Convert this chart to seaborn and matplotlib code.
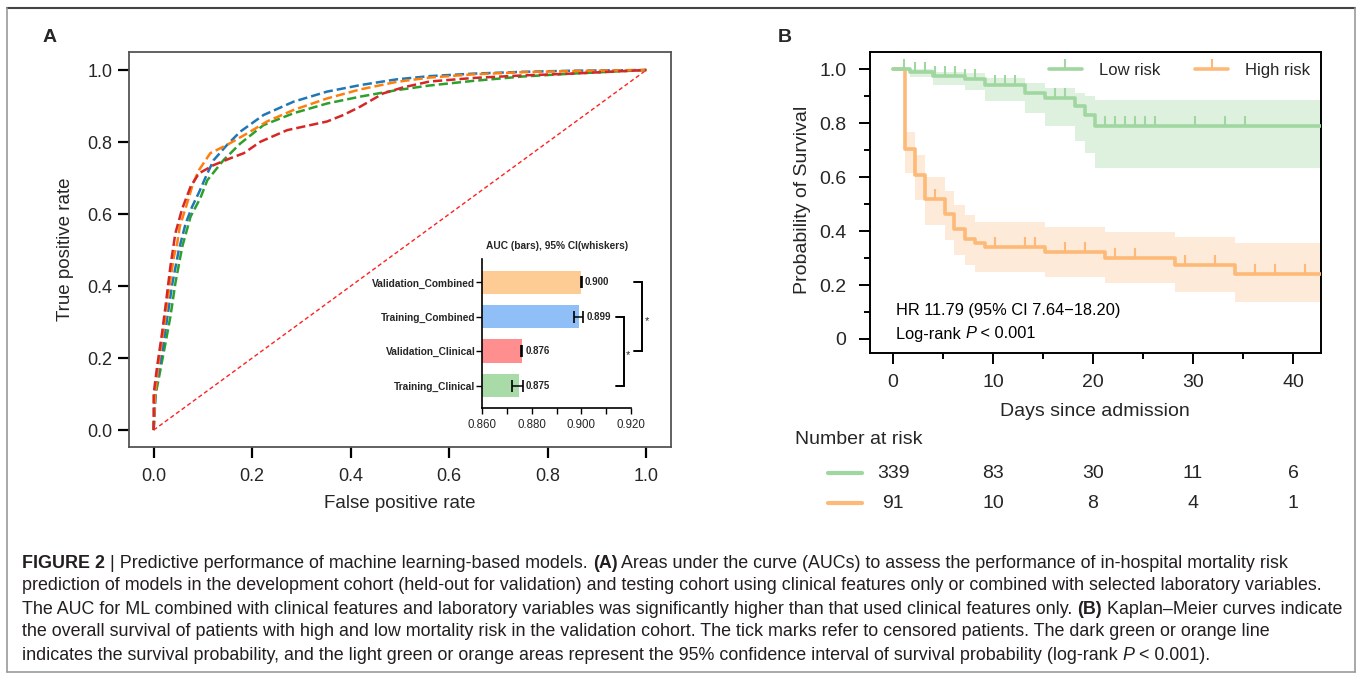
import numpy as np
import matplotlib
matplotlib.use("Agg")
import matplotlib.pyplot as plt
import seaborn as sns
from matplotlib.lines import Line2D
from matplotlib.ticker import FixedLocator, MultipleLocator, FormatStrFormatter
from matplotlib.transforms import blended_transform_factory

# ------------------------------------------------------------------ data
# Panel A: ROC curves (false positive rate, true positive rate)
roc_blue_fpr = [0, 0.005, 0.017, 0.028, 0.038, 0.051, 0.065, 0.078, 0.092, 0.108, 0.122, 0.149, 0.176,
                0.223, 0.284, 0.352, 0.419, 0.493, 0.56, 0.65, 0.75, 0.85, 1.0]
roc_blue_tpr = [0, 0.12, 0.213, 0.315, 0.407, 0.5, 0.574, 0.62, 0.66, 0.71, 0.75, 0.792, 0.829,
                0.875, 0.912, 0.94, 0.958, 0.974, 0.983, 0.99, 0.995, 0.998, 1.0]
roc_orange_fpr = [0, 0.003, 0.011, 0.021, 0.031, 0.041, 0.048, 0.053, 0.068, 0.08, 0.092, 0.115, 0.149,
                  0.19, 0.23, 0.284, 0.352, 0.419, 0.493, 0.56, 0.65, 0.75, 0.85, 1.0]
roc_orange_tpr = [0, 0.1, 0.194, 0.287, 0.389, 0.481, 0.52, 0.565, 0.63, 0.685, 0.722, 0.769, 0.792,
                  0.824, 0.857, 0.889, 0.921, 0.946, 0.967, 0.979, 0.988, 0.994, 0.997, 1.0]
roc_green_fpr = [0, 0.003, 0.011, 0.024, 0.034, 0.044, 0.058, 0.075, 0.082, 0.095, 0.109, 0.142, 0.176,
                 0.223, 0.284, 0.352, 0.419, 0.493, 0.56, 0.65, 0.75, 0.85, 1.0]
roc_green_tpr = [0, 0.092, 0.148, 0.241, 0.315, 0.407, 0.509, 0.593, 0.611, 0.645, 0.694, 0.75, 0.796,
                 0.847, 0.88, 0.907, 0.926, 0.944, 0.957, 0.97, 0.982, 0.99, 1.0]
roc_red_fpr = [0, 0.0, 0.007, 0.017, 0.024, 0.034, 0.044, 0.058, 0.075, 0.092, 0.122, 0.156, 0.183,
               0.217, 0.271, 0.352, 0.385, 0.419, 0.466, 0.507, 0.56, 0.65, 0.75, 0.85, 1.0]
roc_red_tpr = [0, 0.1, 0.176, 0.269, 0.343, 0.454, 0.546, 0.615, 0.676, 0.713, 0.736, 0.755, 0.769,
               0.801, 0.833, 0.857, 0.875, 0.898, 0.935, 0.952, 0.968, 0.978, 0.985, 0.99, 1.0]
diag = [0.0, 1.0]
roc_ticks = [0.0, 0.2, 0.4, 0.6, 0.8, 1.0]

# Panel A inset: AUC bars with 95% CI whiskers
bar_categories = ["Validation_Combined", "Training_Combined", "Validation_Clinical", "Training_Clinical"]
bar_auc = [0.900, 0.899, 0.876, 0.875]
bar_ci_low = [0.8998, 0.8971, 0.8758, 0.8721]
bar_ci_high = [0.9002, 0.9008, 0.8762, 0.8764]
bar_colors = ["#FDCB94", "#90BEF6", "#FF8F8F", "#A8DBA8"]
inset_ticks = [0.860, 0.880, 0.900, 0.920]
inset_title = "AUC (bars), 95% CI(whiskers)"

# Panel B: Kaplan-Meier steps (time, survival, lower CI, upper CI)
km_low_time = [0, 1.7, 4.0, 7.2, 9.2, 13.2, 15.2, 18.2, 19.2, 20.2]
km_low_surv = [1.0, 0.99, 0.976, 0.964, 0.942, 0.913, 0.893, 0.864, 0.83, 0.79]
km_low_lo = [1.0, 0.972, 0.942, 0.923, 0.88, 0.836, 0.79, 0.735, 0.688, 0.633]
km_low_hi = [1.0, 1.0, 0.99, 0.985, 0.965, 0.947, 0.928, 0.91, 0.9, 0.885]
km_low_censor = [1.15, 2.2, 3.2, 4.2, 5.2, 6.2, 7.2, 8.2, 10.2, 11.2, 12.2, 16.2, 17.2,
                 21.2, 22.2, 23.2, 24.2, 25.2, 26.2, 30.2, 33.2, 35.2]

km_high_time = [0, 1.2, 2.2, 3.2, 5.2, 6.1, 7.2, 8.2, 9.2, 15.2, 21.2, 28.2, 34.2]
km_high_surv = [1.0, 0.703, 0.607, 0.517, 0.463, 0.406, 0.369, 0.354, 0.342, 0.323, 0.301, 0.274, 0.240]
km_high_lo = [1.0, 0.616, 0.515, 0.422, 0.367, 0.311, 0.274, 0.249, 0.249, 0.231, 0.209, 0.175, 0.138]
km_high_hi = [1.0, 0.768, 0.681, 0.601, 0.549, 0.496, 0.459, 0.434, 0.434, 0.416, 0.398, 0.377, 0.354]
km_high_censor = [4.2, 10.2, 13.2, 14.2, 17.2, 19.2, 22.2, 24.2, 29.2, 32.2, 36.2, 38.2, 41.2]

km_groups = ["Low risk", "High risk"]
km_xticks = [0, 10, 20, 30, 40]
km_yticks = [0, 0.2, 0.4, 0.6, 0.8, 1.0]
km_ytick_labels = ["0", "0.2", "0.4", "0.6", "0.8", "1.0"]

risk_times = [0, 10, 20, 30, 40]
risk_low = [339, 83, 30, 11, 6]
risk_high = [91, 10, 8, 4, 1]

caption_lines = [
    [("FIGURE 2", "bold", "normal"), (" | Predictive performance of machine learning-based models. ", "normal", "normal"),
     ("(A)", "bold", "normal"),
     (" Areas under the curve (AUCs) to assess the performance of in-hospital mortality risk", "normal", "normal")],
    [("prediction of models in the development cohort (held-out for validation) and testing cohort using clinical features only or combined with selected laboratory variables.", "normal", "normal")],
    [("The AUC for ML combined with clinical features and laboratory variables was significantly higher than that used clinical features only. ", "normal", "normal"),
     ("(B)", "bold", "normal"), (" Kaplan\u2013Meier curves indicate", "normal", "normal")],
    [("the overall survival of patients with high and low mortality risk in the validation cohort. The tick marks refer to censored patients. The dark green or orange line", "normal", "normal")],
    [("indicates the survival probability, and the light green or orange areas represent the 95% confidence interval of survival probability (log-rank ", "normal", "normal"),
     ("P", "normal", "italic"), (" < 0.001).", "normal", "normal")],
]

# ------------------------------------------------------------------ style
sns.set_theme(style="ticks")
plt.rcParams["font.family"] = ["Liberation Sans", "DejaVu Sans"]
plt.rcParams["axes.unicode_minus"] = True

W, H = 1357, 681
fig = plt.figure(figsize=(W / 100, H / 100), dpi=100)
fig.patch.set_facecolor("white")


def fx(px):
    return px / W


def fy(py):
    return 1 - py / H


renderer = fig.canvas.get_renderer()


def text_width(s, size, weight, style):
    t = fig.text(0, 0, "|" + s + "|", fontsize=size, fontweight=weight, fontstyle=style)
    t2 = fig.text(0, 0, "||", fontsize=size, fontweight=weight, fontstyle=style)
    w = t.get_window_extent(renderer).width - t2.get_window_extent(renderer).width
    t.remove()
    t2.remove()
    return w


def rich_line(x_px, y_px, parts, size, color="#231F20"):
    x = x_px
    for s, weight, style in parts:
        fig.text(fx(x), fy(y_px), s, fontsize=size, fontweight=weight, fontstyle=style,
                 ha="left", va="center", color=color)
        x += text_width(s, size, weight, style)
    return x


# frame lines
frame_col = "#9a9a9a"
fig.add_artist(Line2D([fx(7), fx(1355)], [fy(8), fy(8)], color="#444444", lw=1.5, transform=fig.transFigure))
fig.add_artist(Line2D([fx(7), fx(7)], [fy(8), fy(672)], color=frame_col, lw=1.2, transform=fig.transFigure))
fig.add_artist(Line2D([fx(1355), fx(1355)], [fy(8), fy(672)], color=frame_col, lw=1.2, transform=fig.transFigure))
fig.add_artist(Line2D([fx(7), fx(1355)], [fy(672), fy(672)], color=frame_col, lw=1.2, transform=fig.transFigure))

# panel letters
fig.text(fx(50), fy(37), "A", fontsize=14, fontweight="bold", ha="center", va="center")
fig.text(fx(785), fy(37), "B", fontsize=14, fontweight="bold", ha="center", va="center")

# ------------------------------------------------------------------ panel A
ax1 = fig.add_axes([fx(129), fy(447), 542 / W, 395 / H])
sns.lineplot(x=diag, y=diag, color="#ff2020", lw=1.0, linestyle=(0, (3, 2)), ax=ax1, sort=False, estimator=None)
for fpr, tpr, col in [(roc_green_fpr, roc_green_tpr, "#2ca02c"),
                      (roc_blue_fpr, roc_blue_tpr, "#1f77b4"),
                      (roc_orange_fpr, roc_orange_tpr, "#ff7f0e"),
                      (roc_red_fpr, roc_red_tpr, "#d62728")]:
    sns.lineplot(x=fpr, y=tpr, color=col, lw=1.8, linestyle="--", ax=ax1, sort=False, estimator=None)
ax1.set_xlim(-0.05, 1.05)
ax1.set_ylim(-0.047, 1.05)
ax1.xaxis.set_major_locator(FixedLocator(roc_ticks))
ax1.yaxis.set_major_locator(FixedLocator(roc_ticks))
ax1.xaxis.set_major_formatter(FormatStrFormatter("%.1f"))
ax1.yaxis.set_major_formatter(FormatStrFormatter("%.1f"))
ax1.tick_params(axis="both", direction="out", length=8, width=1.6, color="black", labelsize=13)
ax1.tick_params(axis="y", pad=4)
ax1.tick_params(axis="x", pad=7)
for sp in ax1.spines.values():
    sp.set_color("#555555")
    sp.set_linewidth(1.3)
ax1.set_xlabel("False positive rate", fontsize=13.5)
ax1.set_ylabel("True positive rate", fontsize=13.5)
ax1.xaxis.label.set_va("center")
ax1.yaxis.label.set_va("center")
ax1.xaxis.set_label_coords(0.5, -0.142)
ax1.yaxis.set_label_coords(-0.118, 0.5)

# inset bars
axin = fig.add_axes([fx(482.3), fy(408.3), (631 - 482.3) / W, (408.3 - 259) / H])
axin.patch.set_alpha(0)
sns.barplot(x=bar_auc, y=bar_categories, hue=bar_categories, palette=bar_colors, orient="h",
            width=0.68, ax=axin, legend=False, linewidth=0, saturation=1)
pos = np.arange(len(bar_categories))
lo = np.array(bar_ci_low)
hi = np.array(bar_ci_high)
axin.errorbar(x=(lo + hi) / 2, y=pos, xerr=(hi - lo) / 2, fmt="none", ecolor="black",
              elinewidth=1.1, capsize=4.5, capthick=1.2, zorder=5)
for i, v in enumerate(bar_auc):
    axin.annotate(f"{v:.3f}", xy=(hi[i], i), xytext=(2, 0), textcoords="offset points",
                  ha="left", va="center", fontsize=7, fontweight="bold")
axin.set_xlim(inset_ticks[0], inset_ticks[-1])
axin.set_ylim(len(bar_categories) - 1 + 0.66, -0.68)
axin.xaxis.set_major_locator(FixedLocator(inset_ticks))
axin.xaxis.set_minor_locator(MultipleLocator(0.01))
axin.xaxis.set_major_formatter(FormatStrFormatter("%.3f"))
axin.tick_params(axis="x", which="both", length=4.5, width=1.0, labelsize=8.3, pad=3, color="black")
axin.tick_params(axis="y", length=4, width=1.0, pad=1, color="black")
for lab in axin.get_yticklabels():
    lab.set_fontweight("bold")
    lab.set_fontsize(7.3)
axin.set_xlabel("")
axin.set_ylabel("")
sns.despine(ax=axin)
for sp in ["left", "bottom"]:
    axin.spines[sp].set_color("black")
    axin.spines[sp].set_linewidth(1.2)
axin.set_title(inset_title, fontsize=7.3, fontweight="bold", pad=7)

# significance brackets (data x / category y)
def bracket(ax, x_arm, x_line, y0, y1, x_star):
    ax.plot([x_arm, x_line, x_line, x_arm], [y0, y0, y1, y1], color="black", lw=1.4, clip_on=False,
            solid_joinstyle="miter")
    ax.text(x_star, (y0 + y1) / 2 + 0.12, "*", fontsize=8, ha="center", va="center", clip_on=False)

bracket(axin, 0.9212, 0.9243, pos[0], pos[2], 0.9266)
bracket(axin, 0.9141, 0.9170, pos[1], pos[3], 0.9186)

# ------------------------------------------------------------------ panel B
ax2 = fig.add_axes([fx(870), fy(353.3), (1321 - 870) / W, (353.3 - 52.3) / H])
km_xmax = 42.8
green_line, green_band = "#A0D6A0", "#DEF1DE"
orange_line, orange_band = "#FDB978", "#FEEAD8"

def km_draw(times, surv, lo_, hi_, censor, lc, bc, z):
    t = list(times) + [km_xmax]
    s = list(surv) + [surv[-1]]
    l = list(lo_) + [lo_[-1]]
    h = list(hi_) + [hi_[-1]]
    ax2.fill_between(t, l, h, step="post", color=bc, lw=0, zorder=1)
    ax2.step(t, s, where="post", color=lc, lw=2.6, zorder=z)
    idx = np.searchsorted(np.array(times), np.array(censor), side="right") - 1
    ax2.plot(censor, np.array(surv)[idx], ls="none", marker=2, ms=7, mew=1.5, color=lc, zorder=z)

km_draw(km_high_time, km_high_surv, km_high_lo, km_high_hi, km_high_censor, orange_line, orange_band, 3)
km_draw(km_low_time, km_low_surv, km_low_lo, km_low_hi, km_low_censor, green_line, green_band, 4)

ax2.set_xlim(-2.3, km_xmax)
ax2.set_ylim(-0.053, 1.062)
ax2.xaxis.set_major_locator(FixedLocator(km_xticks))
ax2.xaxis.set_minor_locator(MultipleLocator(5))
ax2.yaxis.set_major_locator(FixedLocator(km_yticks))
ax2.set_yticklabels(km_ytick_labels)
ax2.yaxis.set_minor_locator(MultipleLocator(0.1))
ax2.tick_params(axis="both", which="major", direction="out", length=8, width=1.4, color="black", labelsize=14)
ax2.tick_params(axis="both", which="minor", direction="out", length=4.5, width=1.4, color="black")
ax2.tick_params(axis="y", which="major", pad=9)
ax2.tick_params(axis="x", which="major", pad=7)
for sp in ax2.spines.values():
    sp.set_color("black")
    sp.set_linewidth(1.4)
ax2.set_xlabel("Days since admission", fontsize=14)
ax2.set_ylabel("Probability of Survival", fontsize=14)
ax2.xaxis.label.set_va("center")
ax2.yaxis.label.set_va("center")
ax2.xaxis.set_label_coords(0.499, -0.192)
ax2.yaxis.set_label_coords(-0.150, 0.509)

handles = [Line2D([], [], color=green_line, lw=2.6, marker=2, ms=7, mew=1.5),
           Line2D([], [], color=orange_line, lw=2.6, marker=2, ms=7, mew=1.5)]
ax2.legend(handles, km_groups, loc="upper right", bbox_to_anchor=(0.9756, 0.966), ncol=2, frameon=False,
           fontsize=12, handlelength=2.0, handletextpad=1.0, columnspacing=2.1, borderpad=0,
           borderaxespad=0)

rich_line(896, 310, [("HR 11.79 (95% CI 7.64\u221218.20)", "normal", "normal")], 11.8, color="black")
rich_line(896, 334, [("Log-rank ", "normal", "normal"), ("P", "normal", "italic"), (" < 0.001", "normal", "normal")],
          11.8, color="black")

# number at risk table
fig.text(fx(795), fy(440), "Number at risk", fontsize=14, ha="left", va="center")
trans = blended_transform_factory(ax2.transData, fig.transFigure)
for row_y, counts, col in [(473, risk_low, green_line), (503, risk_high, orange_line)]:
    fig.add_artist(Line2D([fx(828), fx(862)], [fy(row_y), fy(row_y)], color=col, lw=3,
                          transform=fig.transFigure))
    for t, n in zip(risk_times, counts):
        fig.text(t, fy(row_y), str(n), transform=trans, fontsize=14, ha="center", va="center")

# ------------------------------------------------------------------ caption
base = 12.0
target = 1345 - 22
w3 = sum(text_width(s, base, wt, st) for s, wt, st in caption_lines[2])
cap_size = base * target / w3
for parts, y in zip(caption_lines, [563, 586, 609, 632, 655]):
    rich_line(22, y, parts, cap_size)

fig.savefig("out.png", dpi=100, facecolor="white")
